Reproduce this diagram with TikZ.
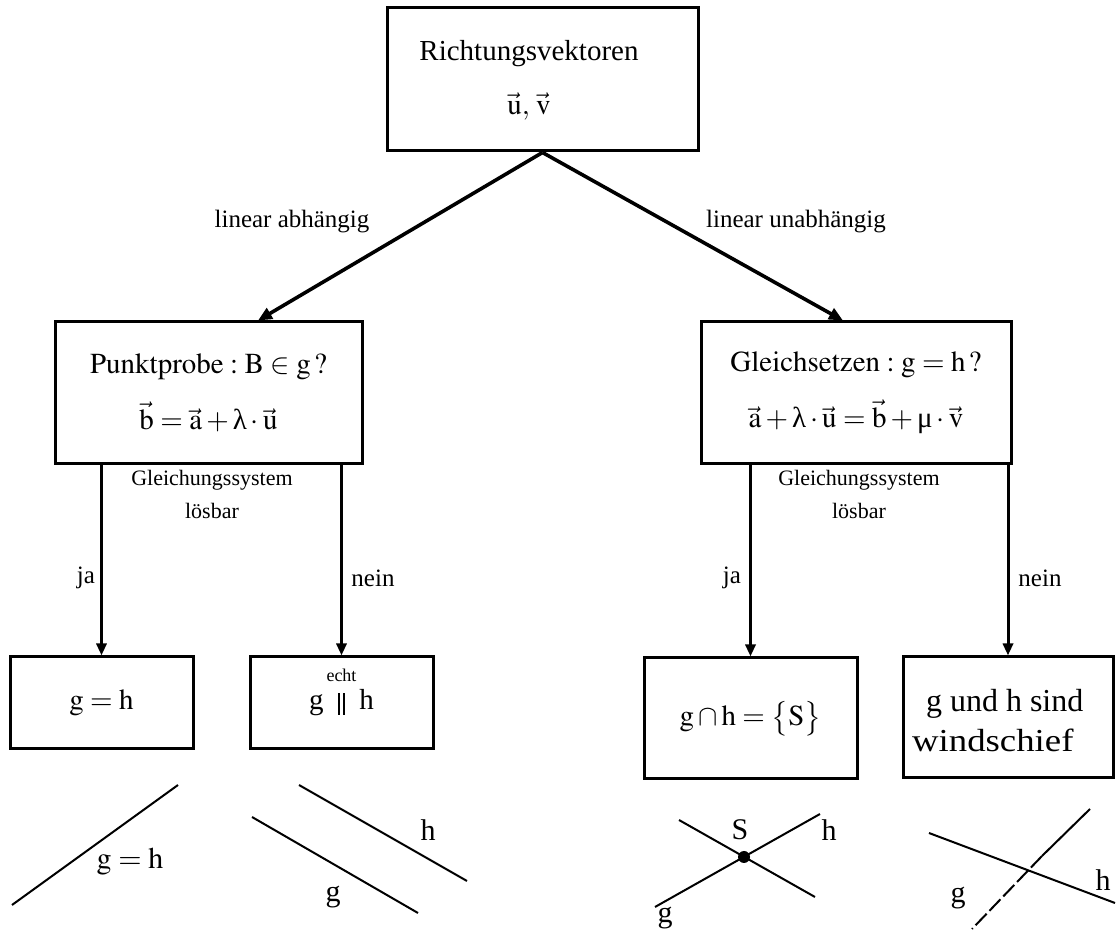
\documentclass[tikz,border=0pt]{standalone}
\usepackage{mathptmx}
\usepackage{fontspec}
\setmainfont{Liberation Serif}
\usetikzlibrary{arrows.meta}
\newcommand{\vek}[1]{\vec{\mathrm{#1}}}
\newcommand{\lam}{\mbox{λ}}
\newcommand{\mue}{\mbox{μ}}
\newcommand{\parl}{\rule[-2.5pt]{0.9pt}{11pt}\hspace{2pt}\rule[-2.5pt]{0.9pt}{11pt}}

\begin{document}
\begin{tikzpicture}[x=0.5pt,y=-0.5pt,
        box/.style={draw,line width=1.5pt,inner sep=0pt},
        pfeil/.style={line width=1.5pt,-{Triangle[length=6pt,width=5pt]}},
        schraeg/.style={line width=1.8pt,-{Triangle[length=7pt,width=6pt]}},
        lbl/.style={font=\fontsize{12.5}{14}\selectfont},
        klein/.style={font=\fontsize{11}{13}\selectfont},
        gross/.style={font=\fontsize{14.5}{24}\selectfont,align=center},
        skizze/.style={font=\fontsize{15}{17}\selectfont},
        linie/.style={line width=1pt}]
    \useasboundingbox (0,0) rectangle (1116,935);
    % Kaesten
    \node[box,minimum width=155.5pt,minimum height=71.5pt] (top) at (542.5,79.5) {};
    \node[gross,font=\fontsize{14.5}{27}\selectfont] (toptext) at (529,80) {Richtungsvektoren\\$\vek{u},\,\vek{v}$};
    \node[box,gross,minimum width=153.5pt,minimum height=71pt] (pp) at (208.5,393)
        {$\mathrm{Punktprobe}:\mathrm{B}\in\mathrm{g}\,?$\\[4pt]$\vek{b}=\vek{a}+\lam\cdot\vek{u}$};
    \node[box,gross,minimum width=155pt,minimum height=71pt] (gs) at (856,393)
        {$\mathrm{Gleichsetzen}:\mathrm{g}=\mathrm{h}\,?$\\[4pt]$\vek{a}+\lam\cdot\vek{u}=\vek{b}+\mue\cdot\vek{v}$};
    \node[box,gross,minimum width=91.5pt,minimum height=46pt] (gleich) at (101.5,703) {$\mathrm{g}=\mathrm{h}$};
    \node[box,gross,minimum width=91.5pt,minimum height=46pt] (par) at (341.5,703) {g\hspace{7pt}\parl\hspace{7pt}h};
    \node[font=\fontsize{9}{10}\selectfont] (echt) at ([yshift=14pt]par.center) {echt};
    \node[box,gross,minimum width=106.5pt,minimum height=60.5pt] (schnitt) at (750.5,718.5)
        {$\mathrm{g}\cap\mathrm{h}=\bigl\{\mathrm{S}\bigr\}$};
    \node[box,minimum width=105pt,minimum height=60.5pt] (wind) at (1008,717.5) {};
    \node[align=left,anchor=west,font=\fontsize{16}{20}\selectfont] (windtext) at (905,721)
        {\hspace{7pt}g und h sind\\\scalebox{1.15}[1]{windschief}};
    % Pfeile
    \draw[schraeg] (top.south) -- ([xshift=24.75pt]pp.north);
    \draw[schraeg] (top.south) -- ([xshift=-6.5pt]gs.north);
    \draw[pfeil] (gleich.north |- pp.south) -- (gleich.north);
    \draw[pfeil] (par.north |- pp.south) -- (par.north);
    \draw[pfeil] (schnitt.north |- gs.south) -- (schnitt.north);
    \draw[pfeil] (wind.north |- gs.south) -- (wind.north);
    % Beschriftungen
    \node[lbl] (la) at (292,222) {linear abhängig};
    \node[lbl] (lu) at (796,222) {linear unabhängig};
    \node[klein] (gl1) at (212,480) {Gleichungssystem};
    \node[klein] (lo1) at (212,511) {lösbar};
    \node[klein] (gl2) at (859,480) {Gleichungssystem};
    \node[klein] (lo2) at (859,511) {lösbar};
    \node[lbl] (ja1) at (86,578) {ja};
    \node[lbl] (nein1) at (373,578) {nein};
    \node[lbl] (ja2) at (732,578) {ja};
    \node[lbl] (nein2) at (1040,578) {nein};
    % Skizzen
    \draw[linie] (12,905) -- (178,785);
    \node[skizze] (sk1) at (130,862) {$\mathrm{g}=\mathrm{h}$};
    \draw[linie] (252,817) -- (418,913);
    \draw[linie] (299,785) -- (467,881);
    \node[skizze] (h1) at (428,830) {h};
    \node[skizze] (g1) at (333,897) {g};
    \draw[linie] (679,820) -- (815,897);
    \draw[linie] (655,907) -- (820,814);
    \fill (744,857) circle (3pt);
    \node[skizze] (s) at (740,830) {S};
    \node[skizze] (g2) at (665,918) {g};
    \node[skizze] (h2) at (829,830) {h};
    \draw[linie] (929,833) -- (1115,903);
    \draw[linie] (1090,809) -- (1042,856);
    \draw[linie,dash pattern=on 8pt off 2pt] (1042,856) -- (972,929);
    \node[skizze] (g3) at (958,898) {g};
    \node[skizze] (h3) at (1103,880) {h};
\end{tikzpicture}
\end{document}
